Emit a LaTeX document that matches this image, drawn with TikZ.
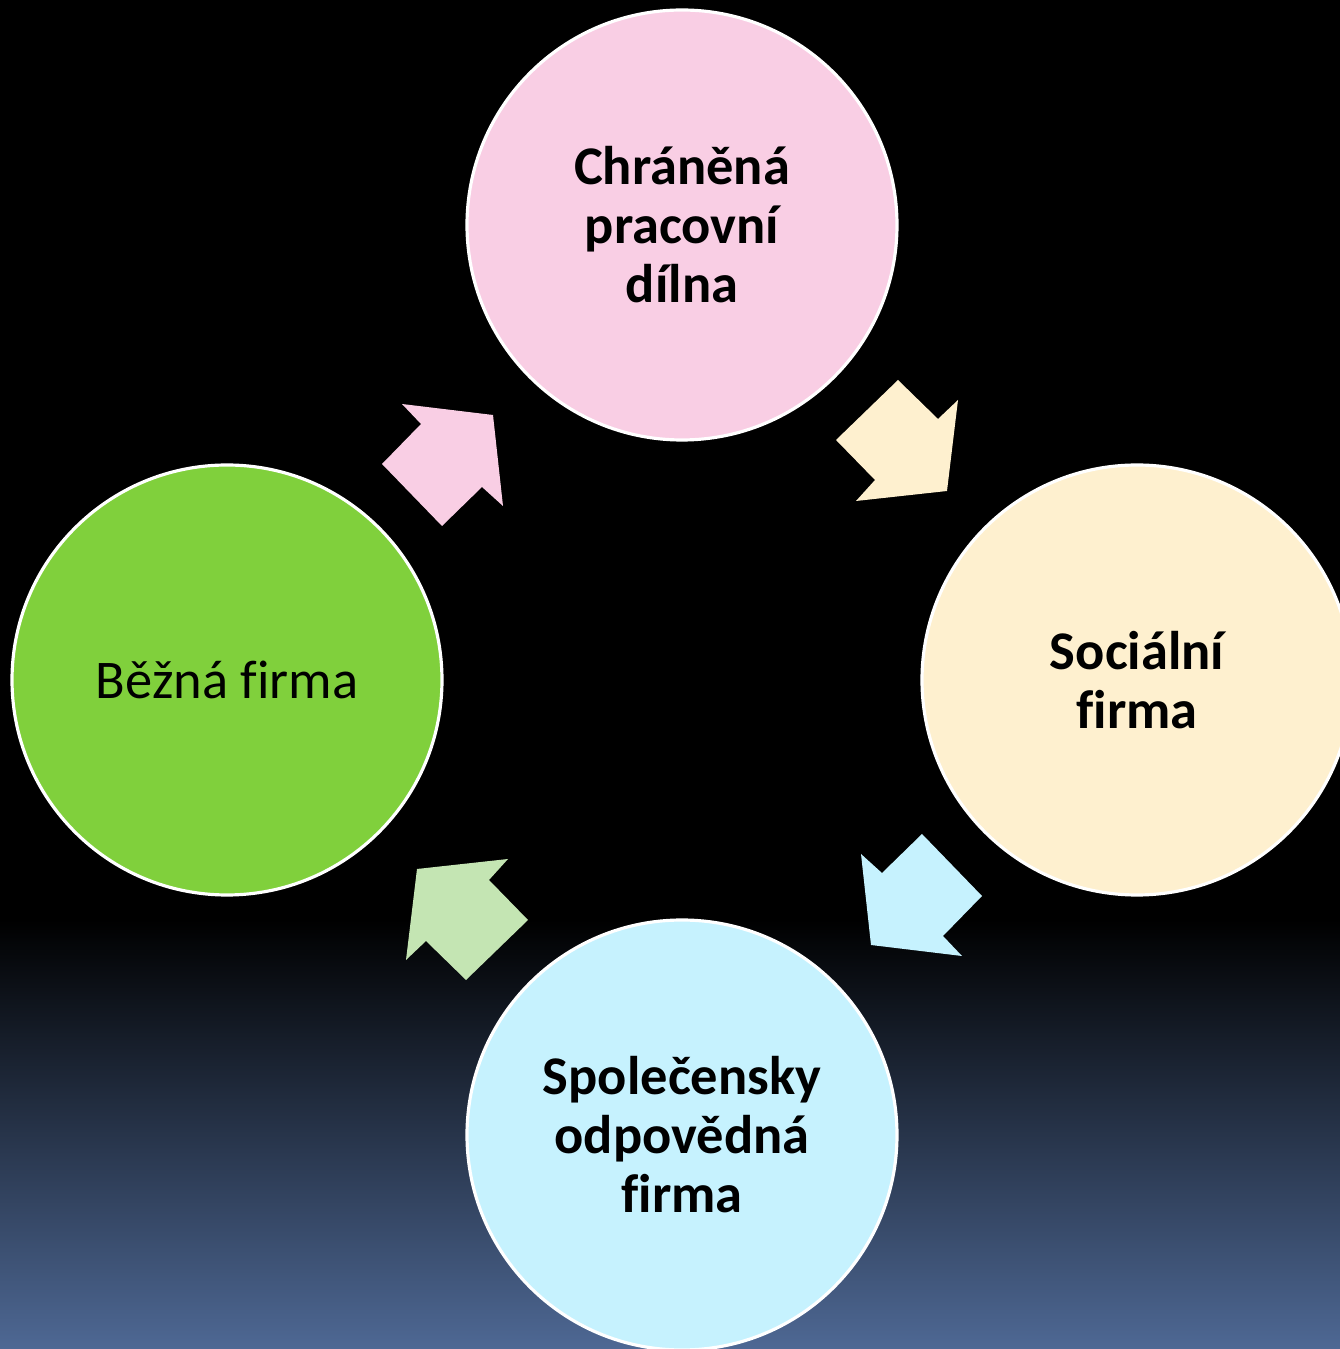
\documentclass[tikz,border=0pt]{standalone}
\usepackage{fontspec}
\setmainfont[Ligatures=NoCommon]{Carlito}
\usetikzlibrary{positioning}

\definecolor{bgblue}{HTML}{4E6894}
\definecolor{pinkfill}{HTML}{F9CEE4}
\definecolor{yellowfill}{HTML}{FEF0CF}
\definecolor{bluefill}{HTML}{C6F2FE}
\definecolor{greenfill}{HTML}{80D03C}
\definecolor{greenarrow}{HTML}{C4E5B3}

\begin{document}
\begin{tikzpicture}[firm/.style={circle,draw=white,line width=1.8pt,minimum size=8.6cm,inner sep=0pt,align=center,font=\fontsize{31}{33.6}\selectfont}]
      \useasboundingbox (0,0) rectangle (26.8,26.98);
      \fill[black] (0,0) rectangle (26.8,26.98);
      \shade[top color=black,bottom color=bgblue] (0,0) rectangle (26.8,8.6);
      \coordinate (mid) at (13.64,13.38);
      % block arrows, turned round the middle
      \foreach \ang/\col in {0/pinkfill,-90/yellowfill,-180/bluefill,90/greenarrow}{
        \fill[\col,rotate around={\ang:(mid)}] ([shift={(-5.60,5.52)}]mid) -- ([shift={(-3.78,5.30)}]mid)
          -- ([shift={(-3.58,3.48)}]mid) -- ([shift={(-4.00,3.86)}]mid) -- ([shift={(-4.80,3.08)}]mid)
          -- ([shift={(-6.00,4.32)}]mid) -- ([shift={(-5.22,5.12)}]mid) -- cycle;
      }
      \node[firm,fill=pinkfill] (chranena) at (13.64,22.48) {\bfseries Chráněná\\\bfseries pracovní\\\bfseries dílna};
      \node[firm,fill=yellowfill] (socialni) at (22.74,13.38) {\bfseries Sociální\\\bfseries firma};
      \node[firm,fill=bluefill] (spolecenska) at (13.64,4.28) {\bfseries Společensky\\\bfseries odpovědná\\\bfseries firma};
      \node[firm,fill=greenfill] (bezna) at (4.54,13.38) {Běžná firma};
    \end{tikzpicture}
\end{document}
